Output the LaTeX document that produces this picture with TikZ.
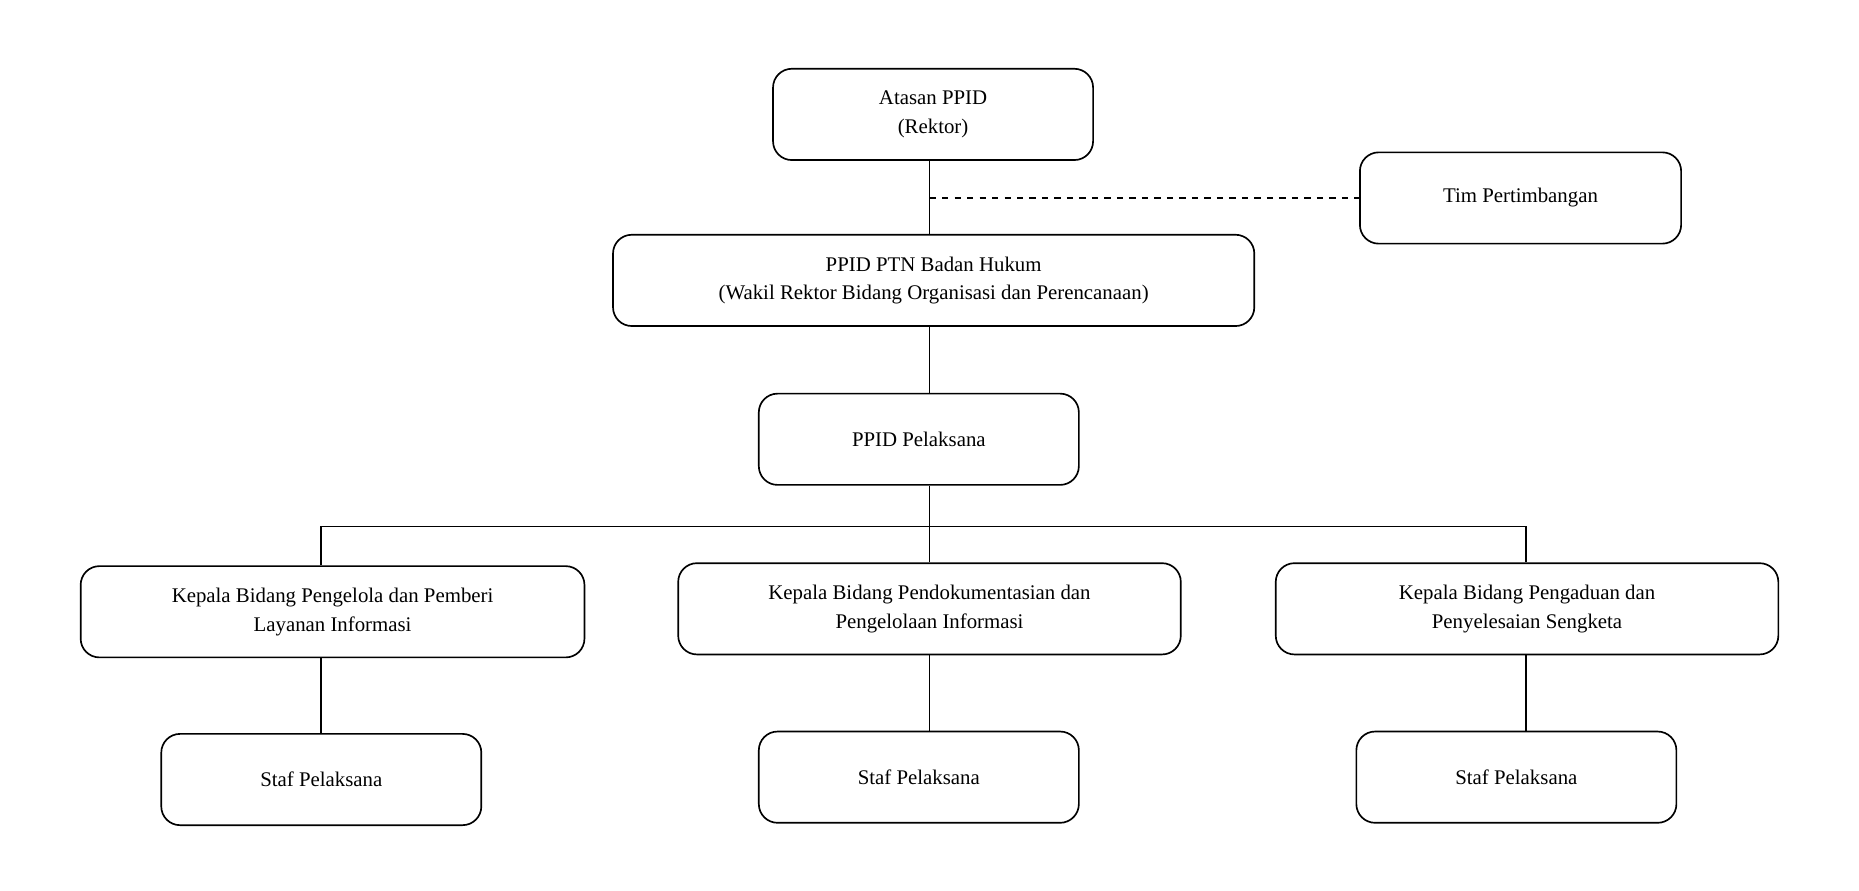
\documentclass[tikz,border=0pt]{standalone}
\usepackage{fontspec}
\setmainfont{Liberation Serif}
\usetikzlibrary{calc,positioning}

\begin{document}
\begin{tikzpicture}[x=0.02cm,y=-0.02cm,font=\fontsize{10}{13.7}\selectfont,
    box/.style={draw,rounded corners=9pt,thick,minimum height=1.54cm,align=center}]
    \useasboundingbox (0,0) rectangle (1568,751);

    \node[box,minimum width=5.4cm] (atasanNode) at (787,96.5) {Atasan PPID\\(Rektor)};
    \node[box,minimum width=5.42cm] (timNode) at (1282.5,167) {Tim Pertimbangan};
    \node[box,minimum width=10.82cm] (ptnNode) at (787.5,236.5) {PPID PTN Badan Hukum\\(Wakil Rektor Bidang Organisasi dan Perencanaan)};
    \node[box,minimum width=5.4cm] (pelaksanaNode) at (775,370.5) {PPID Pelaksana};

    \node[box,minimum width=8.5cm] (kepalaOneNode) at (280.5,516) {Kepala Bidang Pengelola dan Pemberi\\Layanan Informasi};
    \node[box,minimum width=8.48cm] (kepalaTwoNode) at (784,513.5) {Kepala Bidang Pendokumentasian dan\\Pengelolaan Informasi};
    \node[box,minimum width=8.48cm] (kepalaThreeNode) at (1288,513.5) {Kepala Bidang Pengaduan dan\\Penyelesaian Sengketa};

    \node[box,minimum width=5.4cm] (stafOneNode) at (271,657.5) {Staf Pelaksana};
    \node[box,minimum width=5.4cm] (stafTwoNode) at (775,655.5) {Staf Pelaksana};
    \node[box,minimum width=5.4cm] (stafThreeNode) at (1279,655.5) {Staf Pelaksana};

    \coordinate (topLine) at (784,135);
    \coordinate (dashStart) at (784,167);
    \coordinate (busCenter) at (784,444);
    \coordinate (busLeft) at (271,444);
    \coordinate (busRight) at (1287,444);

    \draw[thick] (topLine) -- (topLine |- ptnNode.north);
    \draw[thick,dashed] (dashStart) -- (timNode.west);
    \draw[thick] (topLine |- ptnNode.south) -- (topLine |- pelaksanaNode.north);
    \draw[thick] (topLine |- pelaksanaNode.south) -- (busCenter);
    \draw[thick] (busLeft |- kepalaOneNode.north) -- (busLeft) -- (busRight) -- (busRight |- kepalaThreeNode.north);
    \draw[thick] (busCenter) -- (busCenter |- kepalaTwoNode.north);

    \draw[thick] (busLeft |- kepalaOneNode.south) -- (busLeft |- stafOneNode.north);
    \draw[thick] (busCenter |- kepalaTwoNode.south) -- (busCenter |- stafTwoNode.north);
    \draw[thick] (busRight |- kepalaThreeNode.south) -- (busRight |- stafThreeNode.north);
\end{tikzpicture}
\end{document}
